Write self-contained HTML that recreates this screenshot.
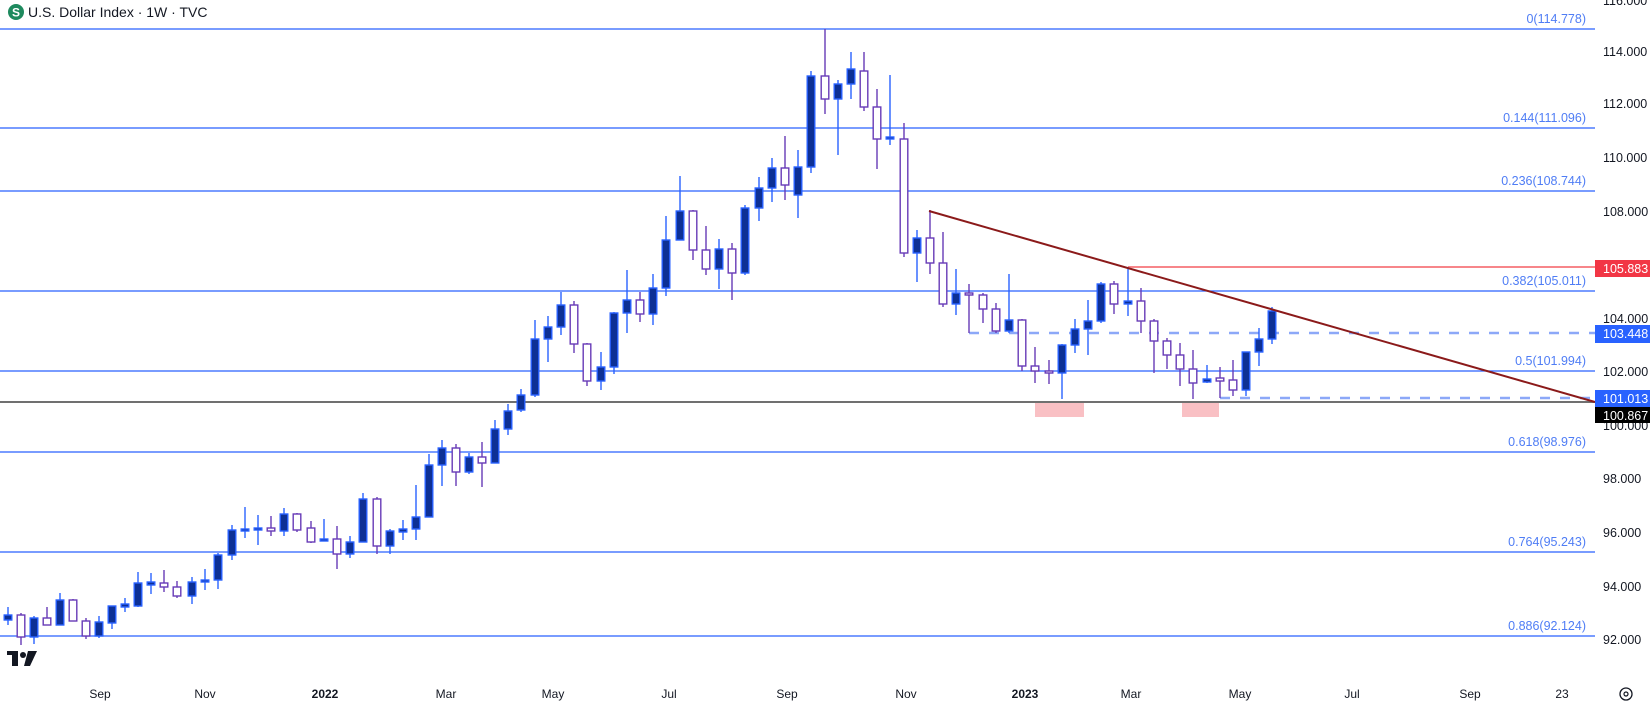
<!DOCTYPE html>
<html><head><meta charset="utf-8"><style>
html,body{margin:0;padding:0;background:#fff;width:1650px;height:706px;overflow:hidden;font-family:"Liberation Sans",sans-serif}
svg{position:absolute;left:0;top:0}
</style></head><body>
<svg id="s" width="1650" height="706" xmlns="http://www.w3.org/2000/svg" font-family="Liberation Sans, sans-serif">
<g stroke="#2962ff" stroke-width="1.3">
<line x1="0" y1="29" x2="1595" y2="29"/>
<line x1="0" y1="128" x2="1595" y2="128"/>
<line x1="0" y1="191" x2="1595" y2="191"/>
<line x1="0" y1="291" x2="1595" y2="291"/>
<line x1="0" y1="371" x2="1595" y2="371"/>
<line x1="0" y1="452" x2="1595" y2="452"/>
<line x1="0" y1="552" x2="1595" y2="552"/>
<line x1="0" y1="636" x2="1595" y2="636"/>
</g>
<g font-size="12.5" fill="#4f7df5" text-anchor="end">
<text x="1586" y="23">0(114.778)</text>
<text x="1586" y="122">0.144(111.096)</text>
<text x="1586" y="185">0.236(108.744)</text>
<text x="1586" y="285">0.382(105.011)</text>
<text x="1586" y="365">0.5(101.994)</text>
<text x="1586" y="446">0.618(98.976)</text>
<text x="1586" y="546">0.764(95.243)</text>
<text x="1586" y="630">0.886(92.124)</text>
</g>
<line x1="0" y1="402" x2="1595" y2="402" stroke="#707070" stroke-width="2"/>
<rect x="1035" y="403" width="49" height="14" fill="#f9c0c4"/>
<rect x="1182" y="403" width="37" height="14" fill="#f9c0c4"/>
<line x1="1128" y1="267" x2="1595" y2="267" stroke="#f7868a" stroke-width="2"/>
<line x1="969" y1="333" x2="1595" y2="333" stroke="#8ca8f8" stroke-width="2.5" stroke-dasharray="10,10"/>
<line x1="1220" y1="398" x2="1595" y2="398" stroke="#8ca8f8" stroke-width="2.5" stroke-dasharray="10,10"/>
<g id="c"></g>
<line x1="929" y1="211" x2="1595" y2="402" stroke="#8b1a1a" stroke-width="2"/>
<g font-size="12.5" fill="#131722">
<text x="1603" y="5">116.000</text>
<text x="1603" y="56">114.000</text>
<text x="1603" y="108">112.000</text>
<text x="1603" y="162">110.000</text>
<text x="1603" y="216">108.000</text>
<text x="1603" y="269">106.000</text>
<text x="1603" y="323">104.000</text>
<text x="1603" y="376">102.000</text>
<text x="1603" y="430">100.000</text>
<text x="1603" y="483">98.000</text>
<text x="1603" y="537">96.000</text>
<text x="1603" y="591">94.000</text>
<text x="1603" y="644">92.000</text>
</g>
<rect x="1595" y="260" width="55" height="17" fill="#f23645"/>
<text x="1603" y="273" font-size="12.5" fill="#fff">105.883</text>
<rect x="1595" y="325" width="55" height="18" fill="#2962ff"/>
<text x="1603" y="338" font-size="12.5" fill="#fff">103.448</text>
<rect x="1595" y="390" width="55" height="17" fill="#2962ff"/>
<text x="1603" y="403" font-size="12.5" fill="#fff">101.013</text>
<rect x="1595" y="407" width="55" height="16" fill="#000"/>
<text x="1603" y="420" font-size="12.5" fill="#fff">100.867</text>
<g font-size="12" fill="#131722" text-anchor="middle">
<text x="100" y="698">Sep</text>
<text x="205" y="698">Nov</text>
<text x="325" y="698" font-weight="bold">2022</text>
<text x="446" y="698">Mar</text>
<text x="553" y="698">May</text>
<text x="669" y="698">Jul</text>
<text x="787" y="698">Sep</text>
<text x="906" y="698">Nov</text>
<text x="1025" y="698" font-weight="bold">2023</text>
<text x="1131" y="698">Mar</text>
<text x="1240" y="698">May</text>
<text x="1352" y="698">Jul</text>
<text x="1470" y="698">Sep</text>
<text x="1562" y="698">23</text>
</g>
<circle cx="1626" cy="694" r="6" fill="none" stroke="#131722" stroke-width="1.3"/>
<circle cx="1626" cy="694" r="2" fill="none" stroke="#131722" stroke-width="1.2"/>
<g fill="#131722">
<rect x="7" y="651" width="11" height="4"/><rect x="12" y="651" width="6" height="15"/>
<circle cx="23" cy="655" r="3"/><polygon points="28,651 37,651 30,666 24,666"/>
</g>
<circle cx="16" cy="12" r="8" fill="#1e8a5e"/>
<text x="16" y="16.5" font-size="12" font-weight="bold" fill="#fff" text-anchor="middle">S</text>
<text x="28" y="17" font-size="14" fill="#131722">U.S. Dollar Index · 1W · TVC</text>
</svg>
<script>
var D=[
[8,'F',607,615,620,625],[21,'H',613,615,637,645],[34,'F',616,618,637,644],[47,'H',607,618,625,625],[60,'F',593,600,625,625],[73,'H',599,600,621,621],[86,'H',618,621,636,639],[99,'F',616,622,636,638],[112,'F',606,606,623,629],[125,'F',598,605,606,612],[138,'F',572,583,606,607],[151,'F',573,583,584,594],[164,'H',570,583,587,592],[177,'H',581,587,596,598],[192,'F',577,582,596,604],[205,'F',569,580,582,590],
[218,'F',553,555,580,589],[232,'F',525,530,555,560],[245,'F',507,529,531,538],[258,'F',515,528,530,545],[271,'H',516,528,531,536],[284,'F',508,514,531,536],[297,'H',513,514,530,532],[311,'H',521,528,542,543],[324,'F',519,539,541,541],[337,'H',526,539,554,569],[350,'F',536,542,554,558],[363,'F',493,499,542,542],[377,'H',497,499,546,554],[390,'F',529,531,546,554],[403,'F',520,529,532,540],[416,'F',485,517,529,540],[429,'F',454,465,517,517],[442,'F',440,448,465,486],[456,'H',444,448,472,486],[469,'F',453,457,472,474],[482,'H',442,457,463,487],[495,'F',420,429,463,463],[508,'F',404,411,429,435],
[521,'F',389,395,410,412],[535,'F',320,339,395,397],[548,'F',316,327,339,362],[561,'F',292,305,327,335],[574,'H',301,305,344,353],[587,'H',343,344,381,386],[601,'F',352,367,381,390],[614,'F',312,313,367,374],[627,'F',270,300,313,333],[640,'H',292,300,314,322],[653,'F',274,288,314,325],[666,'F',216,240,288,296],[680,'F',176,211,240,240],[693,'H',210,211,250,260],[706,'H',226,250,269,275],[719,'F',239,249,269,289],[732,'H',243,249,273,300],[745,'F',205,208,273,275],[759,'F',177,188,208,221],[772,'F',158,168,188,202],[785,'H',136,168,185,200],[798,'F',150,167,195,218],[811,'F',71,76,167,173],[825,'H',29,76,99,114],[838,'F',80,84,99,155],[851,'F',52,69,84,99],[864,'H',52,71,107,111],[877,'H',89,107,139,169],[890,'F',75,137,139,145],[904,'H',123,139,253,257],
[917,'F',230,238,253,282],[930,'H',210,238,263,274],[943,'H',232,263,304,307],[956,'F',269,293,304,315],[969,'H',284,293,295,333],[983,'H',293,295,309,323],[996,'H',303,309,331,333],[1009,'F',274,320,331,333],[1022,'H',319,320,366,371],[1035,'H',347,366,371,383],[1049,'H',360,371,373,384],[1062,'F',344,345,373,399],[1075,'F',319,329,345,353],[1088,'F',300,321,329,355],[1101,'F',282,284,321,323],[1114,'H',281,284,304,314],[1128,'F',267,301,304,316],[1141,'H',288,301,321,333],[1154,'H',319,321,341,373],[1167,'H',338,341,355,369],[1180,'H',343,355,369,386],[1193,'H',350,369,383,399],[1207,'F',365,379,382,383],[1220,'H',367,379,380,398],[1233,'H',360,380,390,396],[1246,'F',352,352,390,396],[1259,'F',328,339,352,366],[1272,'F',307,311,339,344]];
var g=document.getElementById('c'),ns='http://www.w3.org/2000/svg',h='';
D.forEach(function(d){var x=d[0],f=d[1]=='F',c=f?'#2962ff':'#673ab7';
h+='<line x1="'+x+'" x2="'+x+'" y1="'+d[2]+'" y2="'+d[5]+'" stroke="'+c+'" stroke-width="1.4"/>';
var t=d[3],b=d[4];if(b-t<2){t-=1;b+=1;}
h+='<rect x="'+(x-3.8)+'" y="'+t+'" width="7.6" height="'+(b-t)+'" fill="'+(f?'#0d3095':'#fff')+'" stroke="'+c+'" stroke-width="1.4"/>';});
g.innerHTML=h;
</script>
</body></html>
